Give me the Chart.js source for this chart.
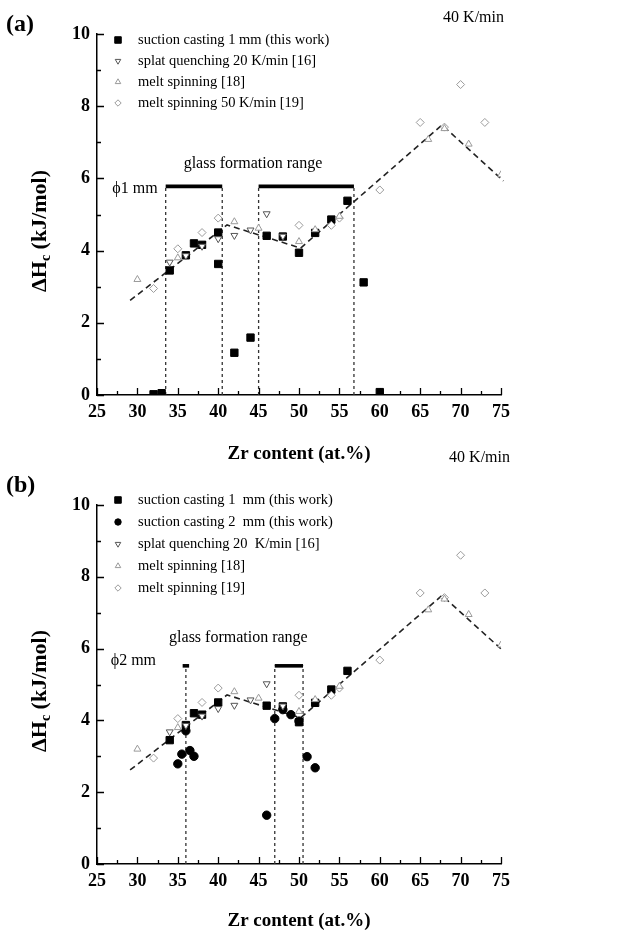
<!DOCTYPE html>
<html>
<head>
<meta charset="utf-8">
<script src="https://cdn.jsdelivr.net/npm/chart.js@4.4.1/dist/chart.umd.min.js"></script>
<style>
  html, body { margin: 0; padding: 0; background: #fff; }
  #wrap { position: relative; width: 632px; height: 939px; background: #fff; }
  canvas { position: absolute; left: 0; }
</style>
</head>
<body>
<div id="wrap">
  <canvas id="chartA" width="632" height="470" style="top:0px"></canvas>
  <canvas id="chartB" width="632" height="499" style="top:440px"></canvas>
</div>
<script>
// ---------------- data ----------------
// axis ticks
const xTickValues = [25, 30, 35, 40, 45, 50, 55, 60, 65, 70, 75];
const yTickValues = [0, 2, 4, 6, 8, 10];

// suction casting 1 mm (this work) — panel (a)
const cast1mmZrA = [32, 33, 34, 36, 37, 38, 40, 40, 42, 44, 46, 48, 50, 52, 54, 56, 58, 60];
const cast1mmDHA = [0.02, 0.05, 3.45, 3.87, 4.20, 4.16, 4.50, 3.63, 1.17, 1.59, 4.41, 4.39, 3.94, 4.49, 4.86, 5.38, 3.12, 0.08];

// suction casting 1 mm (this work) — panel (b)
const cast1mmZrB = [34, 36, 37, 38, 40, 46, 48, 50, 52, 54, 56];
const cast1mmDHB = [3.45, 3.87, 4.20, 4.16, 4.50, 4.41, 4.39, 3.95, 4.49, 4.86, 5.38];

// suction casting 2 mm (this work) — panel (b)
const cast2mmZr = [35, 35.5, 36, 36.5, 37, 46, 47, 48, 49, 50, 51, 52];
const cast2mmDH = [2.79, 3.06, 3.71, 3.16, 3.00, 1.36, 4.05, 4.30, 4.16, 3.98, 2.99, 2.68];

// splat quenching 20 K/min [16]
const splatZr = [34, 36, 38, 40, 42, 44, 46, 48];
const splatDH = [3.68, 3.86, 4.12, 4.33, 4.42, 4.57, 5.02, 4.40];

// melt spinning [18]
const meltZr = [30, 35, 42, 45, 50, 52, 55, 66, 68, 71, 75];
const meltDH = [3.20, 3.80, 4.80, 4.62, 4.25, 4.58, 4.95, 7.08, 7.38, 6.95, 6.10];

// melt spinning 50 K/min [19]
const melt50Zr = [32, 35, 38, 40, 50, 54, 55, 60, 65, 68, 70, 73];
const melt50DH = [2.95, 4.05, 4.50, 4.90, 4.70, 4.70, 4.90, 5.68, 7.55, 7.42, 8.60, 7.55];

// dashed trend guide (break points)
const trendZr = [29.1, 41.1, 50.2, 67.7, 75.3];
const trendDH = [2.62, 4.71, 4.07, 7.48, 5.93];

// glass formation range, phi 1 mm: bounds and bar level
const gfrBoundsA = [33.5, 40.5, 45, 56.8];
const gfrBarsA = [[33.5, 40.5], [45, 56.8]];
const gfrLevelA = 5.78;

// glass formation range, phi 2 mm
const gfrBoundsB = [36, 47, 50.5];
const gfrBarsB = [[35.6, 36.4], [47, 50.5]];
const gfrLevelB = 5.52;

const legendLabelsA = [
  'suction casting 1 mm (this work)',
  'splat quenching 20 K/min [16]',
  'melt spinning [18]',
  'melt spinning 50 K/min [19]'
];
const legendLabelsB = [
  'suction casting 1  mm (this work)',
  'suction casting 2  mm (this work)',
  'splat quenching 20  K/min [16]',
  'melt spinning [18]',
  'melt spinning [19]'
];

// ---------------- helpers ----------------
const SERIF = '"Liberation Serif", "Times New Roman", serif';
const pts = (xs, ys) => xs.map((x, i) => ({ x: x, y: ys[i] }));

const STYLE = {
  sq:   { pointStyle: 'rect',     pointRadius: 5.2, pointRotation: 0,   backgroundColor: '#000', borderColor: '#000', pointBorderWidth: 1 },
  dot:  { pointStyle: 'circle',   pointRadius: 4.2, pointRotation: 0,   backgroundColor: '#000', borderColor: '#000', pointBorderWidth: 1 },
  down: { pointStyle: 'triangle', pointRadius: 4.0, pointRotation: 180, backgroundColor: '#fff', borderColor: '#555', pointBorderWidth: 1 },
  up:   { pointStyle: 'triangle', pointRadius: 4.0, pointRotation: 0,   backgroundColor: '#fff', borderColor: '#9a9a9a', pointBorderWidth: 1 },
  dia:  { pointStyle: 'rectRot',  pointRadius: 4.0, pointRotation: 0,   backgroundColor: '#fff', borderColor: '#9a9a9a', pointBorderWidth: 1 }
};

function markerSet(label, style, data, order) {
  const s = STYLE[style];
  return Object.assign({
    label: label, data: data, showLine: false, order: order,
    pointHoverRadius: s.pointRadius, legendStyle: style
  }, s);
}

function lineSet(data, width, dash, color, clip) {
  return {
    data: data, showLine: true, type: 'line', pointRadius: 0, pointHoverRadius: 0,
    borderColor: color, borderWidth: width, borderDash: dash, fill: false,
    tension: 0, order: 5, clip: clip, borderCapStyle: 'butt'
  };
}

function rangeSets(bounds, bars, level) {
  const out = [];
  bounds.forEach(b => out.push(lineSet([{ x: b, y: 0 }, { x: b, y: level }], 1.3, [3, 3], '#333', false)));
  bars.forEach(r => out.push(lineSet([{ x: r[0], y: level }, { x: r[1], y: level }], 3.6, [], '#000', false)));
  return out;
}

// legend glyphs, same shapes as the plotted markers
function drawGlyph(ctx, style, x, y, r) {
  const s = STYLE[style];
  ctx.save();
  ctx.lineWidth = 1;
  ctx.fillStyle = s.backgroundColor;
  ctx.strokeStyle = s.borderColor;
  ctx.beginPath();
  if (style === 'sq') {
    const h = r * Math.SQRT1_2;
    ctx.rect(x - h, y - h, 2 * h, 2 * h);
  } else if (style === 'dot') {
    ctx.arc(x, y, r, 0, Math.PI * 2);
  } else if (style === 'down' || style === 'up') {
    const sgn = style === 'up' ? -1 : 1;
    ctx.moveTo(x, y + sgn * r);
    ctx.lineTo(x + r * 0.866, y - sgn * r * 0.5);
    ctx.lineTo(x - r * 0.866, y - sgn * r * 0.5);
    ctx.closePath();
  } else {
    ctx.moveTo(x, y - r); ctx.lineTo(x + r, y); ctx.lineTo(x, y + r); ctx.lineTo(x - r, y); ctx.closePath();
  }
  ctx.fill();
  ctx.stroke();
  ctx.restore();
}

// axes decoration: inward ticks, axis titles, labels, legend
const decor = {
  id: 'decor',
  afterDraw(chart, args, o) {
    const ctx = chart.ctx, xs = chart.scales.x, ys = chart.scales.y, a = chart.chartArea;
    ctx.save();

    // inward major + minor ticks
    ctx.strokeStyle = '#000';
    ctx.lineWidth = 1.3;
    ctx.beginPath();
    xTickValues.forEach((v, i) => {
      const px = Math.round(xs.getPixelForValue(v)) + 0.5;
      ctx.moveTo(px, a.bottom); ctx.lineTo(px, a.bottom - 7);
      if (i < xTickValues.length - 1) {
        const m = Math.round(xs.getPixelForValue((v + xTickValues[i + 1]) / 2)) + 0.5;
        ctx.moveTo(m, a.bottom); ctx.lineTo(m, a.bottom - 4);
      }
    });
    yTickValues.forEach((v, i) => {
      const py = Math.round(ys.getPixelForValue(v)) + 0.5;
      ctx.moveTo(a.left, py); ctx.lineTo(a.left + 7, py);
      if (i < yTickValues.length - 1) {
        const m = Math.round(ys.getPixelForValue((v + yTickValues[i + 1]) / 2)) + 0.5;
        ctx.moveTo(a.left, m); ctx.lineTo(a.left + 4, m);
      }
    });
    ctx.stroke();

    ctx.fillStyle = '#000';

    // x title
    ctx.font = 'bold 19px ' + SERIF;
    ctx.textAlign = 'center';
    ctx.textBaseline = 'middle';
    ctx.fillText('Zr content (at.%)', (a.left + a.right) / 2, a.bottom + o.xTitleGap);

    // y title with subscript
    ctx.save();
    ctx.translate(o.yTitleX, o.yTitleY);
    ctx.rotate(-Math.PI / 2);
    ctx.textAlign = 'left';
    ctx.textBaseline = 'alphabetic';
    const main = 'bold 22px ' + SERIF, sub = 'bold 14px ' + SERIF;
    ctx.font = main; const w1 = ctx.measureText('\u0394H').width;
    ctx.font = sub;  const w2 = ctx.measureText('c').width;
    ctx.font = main; const w3 = ctx.measureText(' (kJ/mol)').width;
    let x0 = -(w1 + w2 + w3) / 2;
    ctx.font = main; ctx.fillText('\u0394H', x0, 7.5);
    ctx.font = sub;  ctx.fillText('c', x0 + w1, 12);
    ctx.font = main; ctx.fillText(' (kJ/mol)', x0 + w1 + w2, 7.5);
    ctx.restore();

    // panel tag and heating rate
    ctx.font = 'bold 24px ' + SERIF;
    ctx.textAlign = 'left';
    ctx.textBaseline = 'middle';
    ctx.fillText(o.tag, 6, o.tagY);
    ctx.font = '16px ' + SERIF;
    ctx.textAlign = 'right';
    ctx.fillText('40 K/min', o.rateX, o.rateY);

    // in-plot notes
    ctx.font = '16px ' + SERIF;
    ctx.textAlign = 'center';
    ctx.fillText('glass formation range', xs.getPixelForValue(o.gfrText[0]), ys.getPixelForValue(o.gfrText[1]));
    ctx.fillText(o.phiText, xs.getPixelForValue(o.phiPos[0]), ys.getPixelForValue(o.phiPos[1]));

    // legend
    ctx.font = '14.5px ' + SERIF;
    ctx.textAlign = 'left';
    const items = chart.data.datasets.filter(d => d.legendStyle);
    items.forEach((d, i) => {
      const y = o.legendTop + i * o.legendGap;
      drawGlyph(ctx, d.legendStyle, 118, y, d.legendStyle === 'sq' ? 4.6 : 3.2);
      ctx.fillText(d.label, 138, y);
    });

    ctx.restore();
  }
};

function axes(padTop) {
  const tickFont = { family: SERIF, size: 18, weight: 'bold' };
  return {
    x: {
      type: 'linear', min: 25, max: 75,
      afterBuildTicks: s => { s.ticks = xTickValues.map(v => ({ value: v })); },
      afterFit: s => { s.height = 75; },
      ticks: { font: tickFont, color: '#000', padding: 7, maxRotation: 0, autoSkip: false },
      grid: { display: false, drawTicks: false },
      border: { display: true, color: '#000', width: 1.5 }
    },
    y: {
      type: 'linear', min: 0, max: 10,
      afterBuildTicks: s => { s.ticks = yTickValues.map(v => ({ value: v })); },
      afterFit: s => { s.width = 97; },
      ticks: { font: tickFont, color: '#000', padding: 7, autoSkip: false },
      grid: { display: false, drawTicks: false },
      border: { display: true, color: '#000', width: 1.5 }
    }
  };
}

function build(id, datasets, padTop, decorOpts) {
  return new Chart(document.getElementById(id), {
    type: 'scatter',
    data: { datasets: datasets },
    options: {
      responsive: false, animation: false, devicePixelRatio: 1,
      layout: { padding: { top: padTop, right: 131, bottom: 0, left: 0 } },
      scales: axes(padTop),
      plugins: { legend: { display: false }, tooltip: { enabled: false }, decor: decorOpts },
      events: []
    },
    plugins: [decor]
  });
}

// panel (a): phi 1 mm
build('chartA', [
  markerSet(legendLabelsA[0], 'sq', pts(cast1mmZrA, cast1mmDHA), 2),
  markerSet(legendLabelsA[1], 'down', pts(splatZr, splatDH), 1),
  markerSet(legendLabelsA[2], 'up', pts(meltZr, meltDH), 1),
  markerSet(legendLabelsA[3], 'dia', pts(melt50Zr, melt50DH), 1),
  lineSet(pts(trendZr, trendDH), 1.6, [6, 4], '#222', false),
  ...rangeSets(gfrBoundsA, gfrBarsA, gfrLevelA)
], 34, {
  tag: '(a)', tagY: 25, rateX: 504, rateY: 18,
  xTitleGap: 59, yTitleX: 38, yTitleY: 231,
  legendTop: 40, legendGap: 21,
  gfrText: [44.3, 6.4], phiText: '\u03D51 mm', phiPos: [29.7, 5.71]
});

// panel (b): phi 2 mm
build('chartB', [
  markerSet(legendLabelsB[0], 'sq', pts(cast1mmZrB, cast1mmDHB), 2),
  markerSet(legendLabelsB[1], 'dot', pts(cast2mmZr, cast2mmDH), 2),
  markerSet(legendLabelsB[2], 'down', pts(splatZr, splatDH), 1),
  markerSet(legendLabelsB[3], 'up', pts(meltZr, meltDH), 1),
  markerSet(legendLabelsB[4], 'dia', pts(melt50Zr, melt50DH), 1),
  lineSet(pts(trendZr, trendDH), 1.6, [6, 4], '#222', false),
  ...rangeSets(gfrBoundsB, gfrBarsB, gfrLevelB)
], 65, {
  tag: '(b)', tagY: 46, rateX: 510, rateY: 18,
  xTitleGap: 57, yTitleX: 38, yTitleY: 251,
  legendTop: 60, legendGap: 22,
  gfrText: [42.5, 6.3], phiText: '\u03D52 mm', phiPos: [29.5, 5.66]
});
</script>
</body>
</html>
